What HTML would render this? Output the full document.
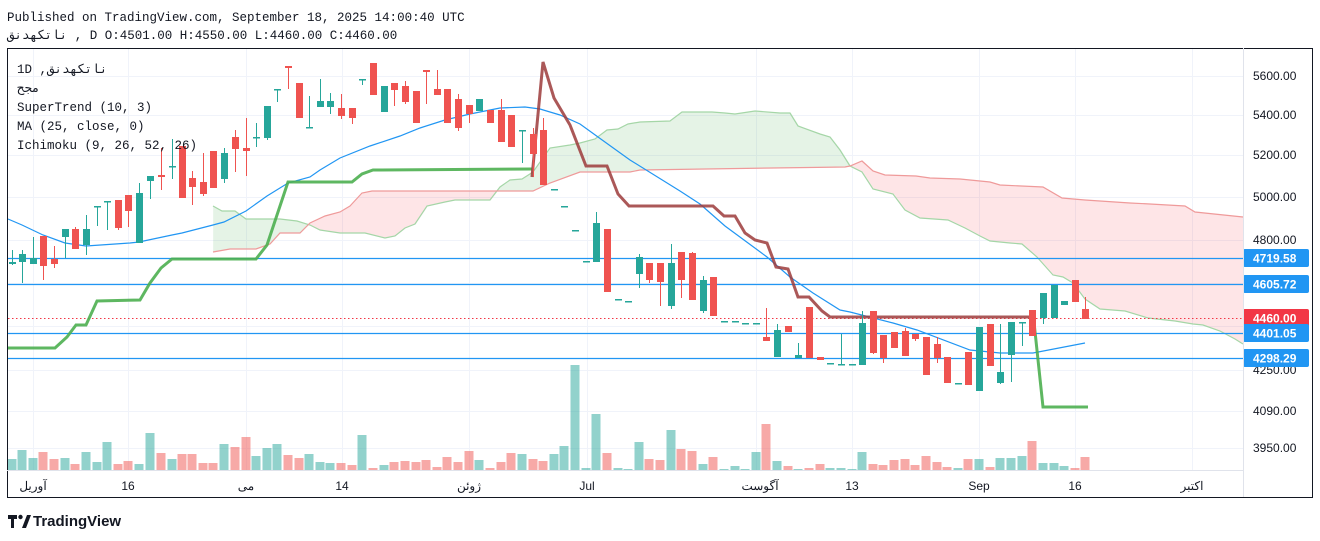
<!DOCTYPE html>
<html><head><meta charset="utf-8">
<style>
html,body{margin:0;padding:0;background:#fff;width:1320px;height:541px;overflow:hidden}
svg{display:block}
.mono{font-family:"Liberation Mono","Noto Sans CJK SC",monospace;font-size:12.5px;fill:#131722}
.ax{font-family:"Liberation Sans","Noto Sans CJK SC",sans-serif;font-size:12px;fill:#131722}
</style></head><body>
<svg id="s" width="1320" height="541" xmlns="http://www.w3.org/2000/svg">
<rect width="1320" height="541" fill="#fff"/>
<g id="grid" stroke="#f0f3fa" stroke-width="1"></g>
<g id="cloud"></g>
<g id="vol"></g>
<g id="hl"></g>
<g id="lines"></g>
<g id="cdl"></g>
<g id="txt"></g>
<rect x="7.5" y="48.5" width="1305" height="449" fill="none" stroke="#131722" stroke-width="1"/>
<line x1="1243.5" y1="48" x2="1243.5" y2="497" stroke="#e0e3eb"/>
<line x1="7" y1="470.5" x2="1243" y2="470.5" stroke="#e0e3eb"/>
<text class="mono" x="7" y="21">Published on TradingView.com, September 18, 2025 14:00:40 UTC</text>
<text class="mono" x="7" y="39">ناتکهدنق  , D O:4501.00 H:4550.00 L:4460.00 C:4460.00</text>
<text class="mono" x="17" y="73">1D ,ناتکهدنق</text>
<text class="mono" x="17" y="92">مجح</text>
<text class="mono" x="17" y="111">SuperTrend (10, 3)</text>
<text class="mono" x="17" y="130">MA (25, close, 0)</text>
<text class="mono" x="17" y="149">Ichimoku (9, 26, 52, 26)</text>
<g transform="translate(8,513)">
<path d="M0 2h9v4H6v9H3V6H0z" fill="#131722"/>
<circle cx="12.5" cy="4" r="2.2" fill="#131722"/>
<path d="M14 15l5-13h4l-5 13z" fill="#131722"/>
</g>
<text x="33" y="526" style="font-family:'Liberation Sans',sans-serif;font-weight:bold;font-size:15px;fill:#131722">TradingView</text>
</svg>
<script>
const NS="http://www.w3.org/2000/svg";
function el(p,t,a,txt){const e=document.createElementNS(NS,t);for(const k in a)e.setAttribute(k,a[k]);if(txt!==undefined)e.textContent=txt;document.getElementById(p).appendChild(e);return e;}
// grid
[76,115,155,197,240,283,326,370,411,448].forEach(y=>el('grid','line',{x1:8,x2:1243,y1:y+.5,y2:y+.5}));
[33,128,246,342,469,587,756,852,979,1075,1192].forEach(x=>el('grid','line',{x1:x+.5,x2:x+.5,y1:49,y2:470}));
// cloud
const gA=[[213,206],[222,211],[235,211],[246,219],[280,219],[297,221],[310,225],[320,230],[340,233],[365,233],[385,238],[395,236],[405,228],[415,224],[427,206],[445,202],[455,200],[490,200],[500,187],[510,180],[522,179],[533,172],[550,148],[570,145],[580,143],[595,139],[607,130],[618,129],[628,124],[640,122],[670,121],[682,112],[712,112],[725,113],[735,114],[755,111],[780,113],[790,113],[798,126],[820,134],[830,137],[840,150],[850,166],[862,172],[873,189],[893,194],[905,210],[920,218],[948,220],[965,228],[980,236],[990,241],[1010,243],[1022,244],[1037,257],[1053,275],[1063,277],[1073,283],[1085,299],[1100,309],[1125,311],[1148,318],[1175,321],[1193,324],[1203,325],[1220,331],[1235,339],[1243,344]];
const gB=[[213,252],[230,249],[256,249],[270,244],[280,233],[300,233],[310,223],[325,216],[340,212],[350,206],[362,193],[372,191],[533,191],[550,183],[580,172],[630,172],[640,170],[772,168],[845,167],[850,166],[862,161],[873,171],[885,175],[916,176],[930,178],[960,179],[990,182],[1000,185],[1043,187],[1062,198],[1085,200],[1130,203],[1150,204],[1185,206],[1195,212],[1243,217]];
function interp(arr,x){for(let i=0;i<arr.length-1;i++){if(x>=arr[i][0]&&x<=arr[i+1][0]){const t=(x-arr[i][0])/((arr[i+1][0]-arr[i][0])||1);return arr[i][1]+t*(arr[i+1][1]-arr[i][1]);}}return arr[arr.length-1][1];}
for(let x=213;x<1243;x++){const a=interp(gA,x),b=interp(gB,x);el('cloud','rect',{x:x,y:Math.min(a,b),width:1.2,height:Math.abs(a-b),fill:a<b?'rgba(76,175,80,0.12)':'rgba(242,54,69,0.11)'});}
const pts=a=>a.map(p=>p.join(',')).join(' ');
el('cloud','polyline',{points:pts(gA),fill:'none',stroke:'#a5d6a7','stroke-width':1.2});
el('cloud','polyline',{points:pts(gB),fill:'none',stroke:'#ef9a9a','stroke-width':1.2});
// candles [x,bt,bb,wt,wb,c]
const C=[[12,262,264,250,265,'g'],[22,254,262,250,283,'g'],[33,258,264,237,264,'g'],[43,236,266,236,280,'r'],[54,259,264,246,268,'r'],[65,229,237,229,258,'g'],[75,229,249,227,249,'r'],[86,229,245,215,255,'g'],[97,206,207,206,226,'g'],[107,201,202,201,230,'g'],[118,200,228,200,230,'r'],[128,195,211,195,227,'r'],[139,193,243,183,243,'g'],[150,176,181,176,199,'g'],[161,175,177,148,190,'r'],[172,166,167,139,179,'g'],[182,146,198,146,198,'r'],[192,178,187,171,205,'r'],[203,182,194,153,196,'r'],[213,151,188,151,188,'r'],[224,153,179,148,183,'g'],[235,137,149,130,172,'r'],[246,148,151,118,176,'r'],[256,137,138,123,147,'g'],[267,106,138,106,140,'g'],[277,89,90,89,102,'g'],[288,66,68,66,89,'r'],[299,83,118,83,118,'r'],[309,127,128,96,128,'g'],[320,101,107,79,107,'g'],[330,101,107,93,114,'g'],[341,108,116,94,119,'r'],[352,108,118,108,124,'r'],[362,79,80,79,85,'g'],[373,63,95,63,95,'r'],[384,86,112,86,112,'g'],[394,83,90,83,106,'r'],[405,86,102,81,104,'r'],[416,91,123,91,123,'r'],[426,70,72,70,104,'r'],[437,89,95,70,95,'r'],[447,89,123,89,123,'r'],[458,99,128,94,131,'r'],[469,105,114,105,123,'r'],[479,99,111,99,111,'g'],[490,110,123,110,123,'r'],[501,110,142,99,142,'r'],[511,115,147,115,147,'r'],[522,130,131,130,163,'g'],[533,134,154,128,177,'r'],[543,130,185,118,185,'r'],[554,189,190,189,190,'g'],[564,206,207,206,207,'g'],[575,230,231,230,231,'g'],[586,261,262,261,262,'g'],[596,223,262,212,262,'g'],[607,229,292,229,292,'r'],[618,299,300,299,300,'g'],[628,301,302,301,302,'g'],[639,257,274,254,288,'g'],[649,263,280,263,283,'r'],[660,263,282,263,306,'r'],[671,263,306,244,309,'g'],[681,252,280,252,298,'r'],[692,253,300,252,300,'r'],[703,280,311,276,313,'g'],[713,277,316,277,316,'r'],[724,321,322,321,322,'g'],[735,321,322,321,322,'g'],[745,323,324,323,324,'g'],[756,323,324,323,324,'g'],[766,337,341,308,341,'r'],[777,330,357,324,357,'g'],[788,326,332,326,332,'r'],[798,355,358,343,358,'g'],[809,307,358,307,358,'r'],[820,357,360,357,360,'r'],[830,363,364,363,364,'g'],[841,364,365,334,365,'g'],[852,364,365,364,365,'g'],[862,323,365,311,365,'g'],[873,311,353,311,354,'r'],[883,335,358,335,363,'r'],[894,332,348,332,348,'r'],[905,331,356,328,356,'r'],[915,334,339,334,341,'r'],[926,337,375,337,375,'r'],[937,344,358,337,363,'r'],[947,357,383,357,383,'r'],[958,383,384,383,384,'g'],[968,352,385,352,385,'r'],[979,327,391,327,391,'g'],[990,324,366,324,366,'r'],[1000,372,383,324,384,'g'],[1011,322,355,322,382,'g'],[1022,322,323,322,346,'g'],[1032,310,336,310,336,'r'],[1043,293,318,293,324,'g'],[1054,285,318,285,318,'g'],[1064,301,305,301,305,'g'],[1075,280,302,280,302,'r'],[1085,309,319,297,319,'r']];
const V={12:459,22:450,33:458,43:452,54:459,65:458,75:464,86:452,97:462,107:442,118:464,128:461,139:464,150:433,161:453,172:459,182:454,192:454,203:463,213:463,224:444,235:447,246:437,256:456,267:448,277:444,288:455,299:458,309:454,320:462,330:463,341:463,352:465,362:435,373:468,384:465,394:462,405:461,416:462,426:460,437:467,447:457,458:462,469:451,479:460,490:468,501:462,511:453,522:454,533:459,543:461,554:454,564:446,575:365,586:468,596:414,607:453,618:468,628:469,639:442,649:459,660:460,671:430,681:449,692:451,703:464,713:457,724:469,735:466,745:469,756:452,766:424,777:461,788:466,798:469,809:468,820:464,830:468,841:468,852:469,862:452,873:464,883:465,894:460,905:459,915:465,926:456,937:462,947:467,958:468,968:459,979:459,990:467,1000:458,1011:458,1022:456,1032:441,1043:463,1054:463,1064:466,1075:468,1085:457};
C.forEach(c=>{const col=c[5]=='g'?'#26a69a':'#ef5350';const vy=V[c[0]];if(vy)el('vol','rect',{x:c[0]-4.5,y:vy,width:9,height:470-vy,fill:c[5]=='g'?'rgba(38,166,154,0.5)':'rgba(239,83,80,0.5)'});
el('cdl','line',{x1:c[0]+.5,x2:c[0]+.5,y1:c[3],y2:c[4],stroke:col,'stroke-width':1});
el('cdl','rect',{x:c[0]-3,y:c[1],width:7,height:Math.max(1.5,c[2]-c[1]),fill:col});});
// horizontal lines
[258,284,333,358].forEach(y=>el('hl','line',{x1:8,x2:1243,y1:y+.5,y2:y+.5,stroke:'#2196f3','stroke-width':1.2}));
el('hl','line',{x1:8,x2:1243,y1:318.5,y2:318.5,stroke:'#f23645','stroke-width':1,'stroke-dasharray':'1.5,2.5'});
// MA
el('lines','polyline',{points:pts([[8,219],[22,225],[43,235],[65,243],[86,246],[130,243],[139,242],[172,235],[182,233],[213,225],[224,222],[246,211],[267,196],[288,183],[310,177],[320,170],[340,158],[370,146],[400,136],[420,128],[445,120],[470,114],[500,108],[525,107],[540,109],[560,115],[580,124],[598,137],[630,160],[680,191],[700,204],[725,226],[767,257],[790,277],[813,293],[840,310],[850,312],[893,323],[917,330],[970,350],[1000,353],[1033,353],[1085,343]]),fill:'none',stroke:'#2196f3','stroke-width':1.2});
// supertrend
el('lines','polyline',{points:pts([[8,348],[55,348],[67,337],[76,325],[86,325],[97,301],[140,300],[150,283],[161,268],[172,259],[256,259],[267,245],[277,215],[288,182],[352,182],[362,174],[373,170],[532,169]]),fill:'none',stroke:'#4caf50','stroke-width':3,'stroke-opacity':0.9});
el('lines','polyline',{points:pts([[532,177],[543,62],[554,98],[570,125],[586,166],[607,166],[618,194],[629,206],[713,206],[724,216],[735,216],[745,233],[755,240],[767,243],[776,267],[788,269],[798,297],[809,297],[822,311],[830,317],[1032,317]]),fill:'none',stroke:'#9c3b3b','stroke-width':3,'stroke-opacity':0.85});
el('lines','polyline',{points:pts([[1034,322],[1043,407],[1088,407]]),fill:'none',stroke:'#4caf50','stroke-width':3,'stroke-opacity':0.9});
// axis labels
[[5600,76],[5400,115],[5200,155],[5000,197],[4800,240],[4250,370],[4090,411],[3950,448]].forEach(p=>el('txt','text',{class:'ax',x:1253,y:p[1]+4},p[0].toFixed(2)));
[['4719.58',258,'#2196f3'],['4605.72',284,'#2196f3'],['4460.00',318,'#f23645'],['4401.05',333,'#2196f3'],['4298.29',358,'#2196f3']].forEach(p=>{el('txt','rect',{x:1243,y:p[1]-9,width:66,height:18,fill:p[2],rx:2});el('txt','text',{class:'ax',x:1253,y:p[1]+4.5,style:'fill:#fff;font-weight:bold'},p[0]);});
[['آوریل',33],['16',128],['می',246],['14',342],['ژوئن',469],['Jul',587],['آگوست',760],['13',852],['Sep',979],['16',1075],['اکتبر',1192]].forEach(p=>el('txt','text',{class:'ax',x:p[1],y:490,'text-anchor':'middle',style:'font-family:"Liberation Sans","Noto Sans CJK SC",sans-serif'},p[0]));
</script>
</body></html>
